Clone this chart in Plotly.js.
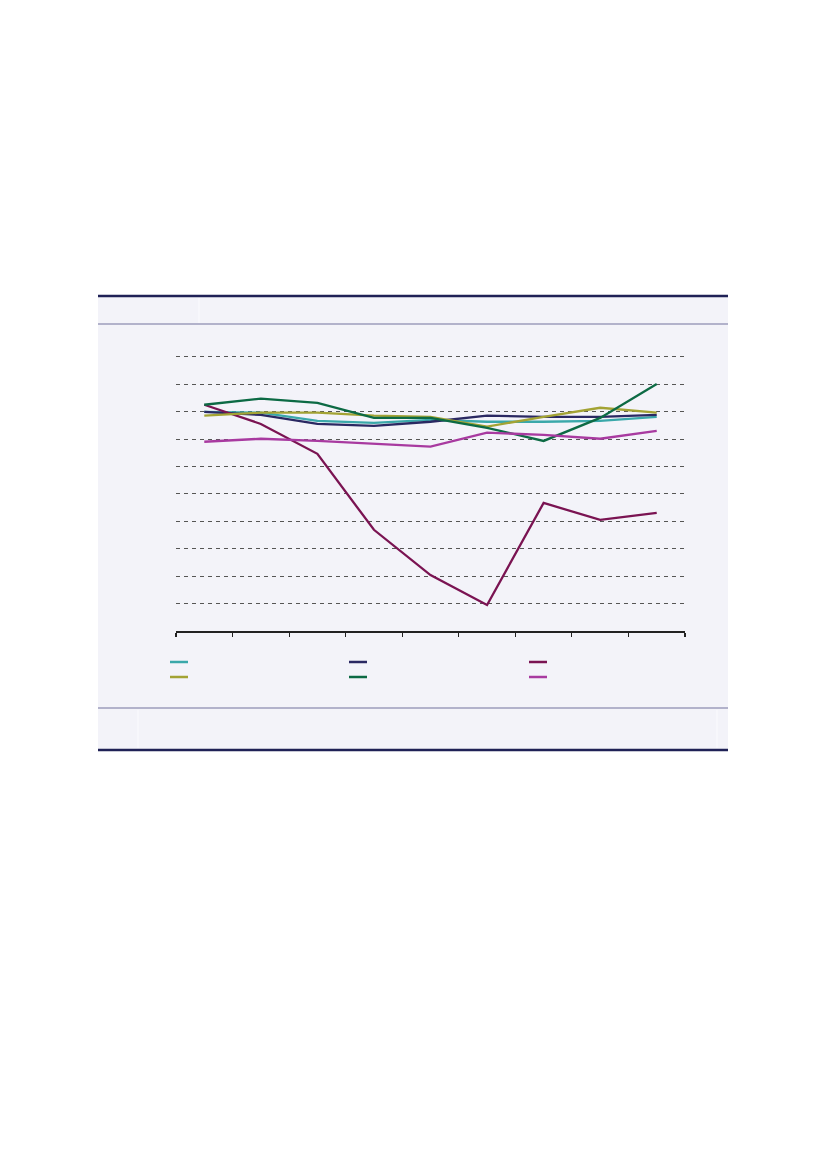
<!DOCTYPE html>
<html>
<head>
<meta charset="utf-8">
<script src="https://cdn.plot.ly/plotly-3.0.1.min.js"></script>
<style>html,body{margin:0;padding:0;background:#fff;}#chart{width:826px;height:1169px;}</style>
</head>
<body>
<div id="chart"></div>
<script>
// Category positions (labels not shown in the reference)
const periods = [1, 2, 3, 4, 5, 6, 7, 8, 9];

// Series values (index-like scale 0-100)
const seriesTeal    = [79.9, 79.6, 76.6, 75.9, 77.0, 76.3, 76.3, 76.6, 78.1];
const seriesNavy    = [79.9, 78.8, 75.5, 74.8, 76.3, 78.5, 78.1, 78.1, 78.8];
const seriesMaroon  = [82.5, 75.5, 64.6, 36.9, 20.4, 9.5, 46.7, 40.5, 43.1];
const seriesOlive   = [78.5, 79.6, 79.6, 78.5, 78.1, 74.5, 78.1, 81.4, 79.6];
const seriesGreen   = [82.5, 84.7, 83.2, 77.7, 77.7, 74.1, 69.3, 77.7, 90.1];
const seriesMagenta = [69.0, 70.1, 69.3, 68.2, 67.2, 72.3, 71.5, 70.1, 73.0];

const seriesList = [seriesTeal, seriesNavy, seriesMaroon, seriesOlive, seriesGreen, seriesMagenta];
const colors = ['#3aa8aa', '#2a2862', '#7a1352', '#a3a334', '#0c6a44', '#a83aa0'];

// plot area in pixels
const L = 176, R = 685, T = 354, B = 631;
const px = x => (x - L) / (R - L);
const py = y => (B - y) / (B - T);

const traces = seriesList.map((vals, i) => ({
  x: periods, y: vals, type: 'scatter', mode: 'lines',
  line: {color: colors[i], width: 2.3}, showlegend: false, hoverinfo: 'skip'
}));

const shapes = [];
// panel background
shapes.push({type:'rect', xref:'paper', yref:'paper', x0:px(98), x1:px(728), y0:py(296), y1:py(750),
  fillcolor:'#f3f3f9', line:{width:0}, layer:'below'});
// faint cell separators
shapes.push({type:'line', xref:'paper', yref:'paper', x0:px(199), x1:px(199), y0:py(298), y1:py(323), line:{color:'#fbfbfe', width:1}, layer:'below'});
shapes.push({type:'line', xref:'paper', yref:'paper', x0:px(138), x1:px(138), y0:py(710), y1:py(748), line:{color:'#fbfbfe', width:1}, layer:'below'});
shapes.push({type:'line', xref:'paper', yref:'paper', x0:px(717), x1:px(717), y0:py(710), y1:py(748), line:{color:'#fbfbfe', width:1}, layer:'below'});
// rules
shapes.push({type:'line', xref:'paper', yref:'paper', x0:px(98), x1:px(728), y0:py(296), y1:py(296), line:{color:'#1f2156', width:2.5}});
shapes.push({type:'line', xref:'paper', yref:'paper', x0:px(98), x1:px(728), y0:py(324), y1:py(324), line:{color:'#9d9cbb', width:1.5}});
shapes.push({type:'line', xref:'paper', yref:'paper', x0:px(98), x1:px(728), y0:py(708), y1:py(708), line:{color:'#9d9cbb', width:1.5}});
shapes.push({type:'line', xref:'paper', yref:'paper', x0:px(98), x1:px(728), y0:py(750), y1:py(750), line:{color:'#1f2156', width:2.5}});
// legend keys (3 columns x 2 rows)
const keyX = [170, 349, 529], keyY = [662, 677];
colors.forEach((c, i) => {
  const col = i % 3, row = Math.floor(i / 3);
  shapes.push({type:'line', xref:'paper', yref:'paper', x0:px(keyX[col]), x1:px(keyX[col] + 18),
    y0:py(keyY[row]), y1:py(keyY[row]), line:{color:c, width:2.5}});
});

const layout = {
  width: 826, height: 1169,
  margin: {l: L, r: 826 - R, t: T, b: 1169 - B, pad: 0},
  paper_bgcolor: '#ffffff', plot_bgcolor: 'rgba(0,0,0,0)',
  showlegend: false,
  xaxis: {range: [0.5, 9.5], tickmode: 'linear', tick0: 0.5, dtick: 1, showgrid: false,
    showticklabels: false, ticks: 'outside', ticklen: 4, tickwidth: 1.2, tickcolor: '#222',
    showline: true, linecolor: '#222', linewidth: 1.5, zeroline: false, fixedrange: true},
  yaxis: {range: [0, 101], tickmode: 'linear', tick0: 0, dtick: 10, showticklabels: false,
    showgrid: true, gridcolor: '#555', gridwidth: 1, griddash: '4px,4px', zeroline: false,
    showline: false, ticks: '', fixedrange: true},
  shapes: shapes
};

Plotly.newPlot('chart', traces, layout, {displayModeBar: false, staticPlot: true});
</script>
</body>
</html>
